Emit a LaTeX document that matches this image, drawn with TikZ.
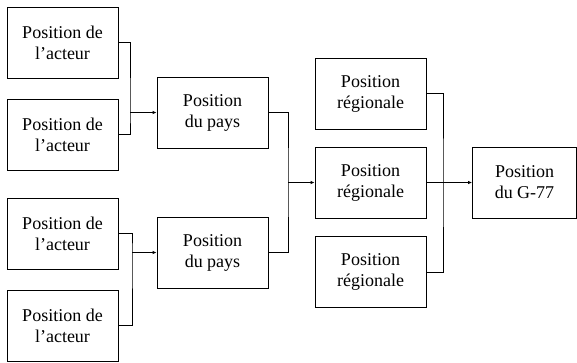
\documentclass[tikz,border=0pt]{standalone}
\usepackage{fontspec}
\setmainfont{Liberation Serif}
\usetikzlibrary{arrows.meta}
\begin{document}
\begin{tikzpicture}[x=1pt,y=-1pt,
  box/.style={draw,line width=0.8pt,minimum width=111pt,minimum height=71pt,inner sep=0pt,align=center,font=\fontsize{18}{21}\selectfont},
  link/.style={line width=0.8pt},
  arr/.style={line width=0.8pt,-{Latex[length=4pt,width=3.5pt]}}]
\useasboundingbox (0,0) rectangle (577,362);
\node[box] (a1) at (62.5,42.5) {Position de\\l’acteur};
\node[box] (a2) at (62.5,134.5) {Position de\\l’acteur};
\node[box] (a3) at (62.5,233.5) {Position de\\l’acteur};
\node[box] (a4) at (62.5,325.5) {Position de\\l’acteur};
\node[box] (p1) at (212.5,112.5) {Position\\du pays};
\node[box] (p2) at (212.5,252.5) {Position\\du pays};
\node[box] (r1) at (370.5,93.5) {Position\\régionale};
\node[box] (r2) at (370.5,182.5) {Position\\régionale};
\node[box] (r3) at (370.5,272) {Position\\régionale};
\node[box,minimum width=104pt] (g) at (524.5,182.5) {Position\\du G-77};
\coordinate (j1) at (130,112.5);
\coordinate (j2) at (132,252.5);
\coordinate (j3) at (288,182.5);
\coordinate (j4) at (443,182.5);
\draw[link] (a1.east) -| (j1) |- (a2.east);
\draw[arr] (j1) -- (p1.west);
\draw[link] (a3.east) -| (j2) |- (a4.east);
\draw[arr] (j2) -- (p2.west);
\draw[link] (p1.east) -| (j3) |- (p2.east);
\draw[arr] (j3) -- (r2.west);
\draw[link] (r1.east) -| (j4) |- (r3.east);
\draw[arr] (r2.east) -- (g.west);
\end{tikzpicture}
\end{document}
